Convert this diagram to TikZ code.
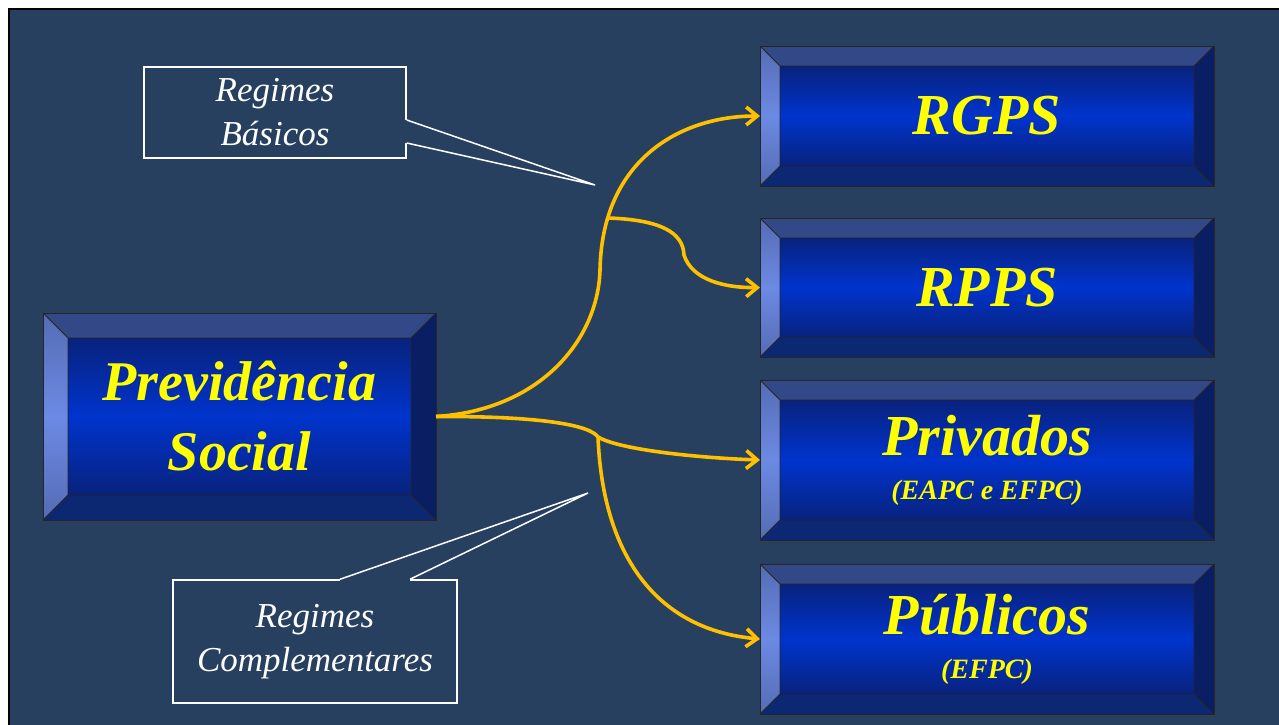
\documentclass[tikz,border=0pt]{standalone}
\usepackage{fontspec}
\setmainfont{Liberation Serif}
\usetikzlibrary{arrows.meta, positioning}

\definecolor{bgblue}{RGB}{39,64,96}
\definecolor{bevtop}{RGB}{50,72,135}
\definecolor{bevbottom}{RGB}{12,40,115}
\definecolor{bevright}{RGB}{10,30,100}
\definecolor{bevleftA}{RGB}{85,108,180}
\definecolor{bevleftB}{RGB}{108,138,228}
\definecolor{innerdark}{RGB}{8,34,125}
\definecolor{innerlight}{RGB}{0,52,205}
\definecolor{textyellow}{RGB}{255,255,0}
\definecolor{linkgold}{RGB}{255,192,0}

\begin{document}
\begin{tikzpicture}[x=0.5pt, y=-0.5pt]
    \tikzset{
        bevel size/.store in = \bevsize, bevel size = 10pt,
        bevelbox/.style = {rectangle, draw=black!85, thin, inner sep=0pt, outer sep=0pt, align=center,
            text=textyellow, font=\fontsize{29}{22}\selectfont\bfseries\itshape,
            path picture={
                \path (path picture bounding box.north west) coordinate (pnw)
                      (path picture bounding box.north east) coordinate (pne)
                      (path picture bounding box.south east) coordinate (pse)
                      (path picture bounding box.south west) coordinate (psw)
                      ([shift={(\bevsize,-\bevsize)}]pnw) coordinate (inw)
                      ([shift={(-\bevsize,-\bevsize)}]pne) coordinate (ine)
                      ([shift={(-\bevsize,\bevsize)}]pse) coordinate (ise)
                      ([shift={(\bevsize,\bevsize)}]psw) coordinate (isw);
                \fill[bevtop] (pnw) -- (pne) -- (ine) -- (inw) -- cycle;
                \fill[bevbottom] (psw) -- (pse) -- (ise) -- (isw) -- cycle;
                \fill[bevright] (pne) -- (pse) -- (ise) -- (ine) -- cycle;
                \shade[top color=bevleftA, bottom color=bevleftA, middle color=bevleftB]
                    (pnw) -- (inw) -- (isw) -- (psw) -- cycle;
                \shade[top color=innerdark, bottom color=innerdark, middle color=innerlight]
                    (inw) rectangle (ise);
                \draw[black!85, thin] (inw) rectangle (ise)
                    (pnw) -- (inw) (pne) -- (ine) (pse) -- (ise) (psw) -- (isw);
            }},
        rightbox/.style = {bevelbox, minimum width=227pt},
        callout/.style = {rectangle, draw=white, line width=0.75pt, fill=bgblue, text=white,
            align=center, font=\fontsize{17.5}{22}\selectfont\itshape},
        pointer/.style = {draw=white, line width=0.75pt},
        line/.style = {draw=linkgold, line width=1.8pt, -{Straight Barb[length=5.5pt, width=9pt]}},
        branch/.style = {draw=linkgold, line width=1.8pt},
    }

    \useasboundingbox (0,0) rectangle (1279,724);
    \fill[bgblue] (9,9) rectangle (1290,740);
    \draw[black, line width=1pt] (9,740) -- (9,9) -- (1290,9);

    \node[bevelbox, bevel size=12.5pt, minimum width=196.5pt, minimum height=103.5pt,
          font=\fontsize{28}{35}\selectfont\bfseries\itshape]
        (prev) at (239.5,416.5) {Previdência\\Social};

    \node[rightbox, minimum height=70pt](rgps) at (987,116) {RGPS};
    \node[rightbox, minimum height=69.5pt](rpps)[below = 16pt of rgps]{RPPS};
    \node[rightbox, minimum height=80pt](priv)[below = 11.5pt of rpps]{Privados\\{\fontsize{14}{16}\selectfont (EAPC e EFPC)}};
    \node[rightbox, minimum height=75pt](publ)[below = 12pt of priv]{Públicos\\{\fontsize{14}{16}\selectfont (EFPC)}};

    \node[callout, minimum width=131pt, minimum height=45.5pt](basicos) at (275,112.5) {Regimes\\Básicos};
    \node[callout, minimum width=142pt, minimum height=61.5pt](compl) at (315,641.5) {Regimes\\Complementares};

    \coordinate (basicostip) at (595,185);
    \coordinate (compltip) at (588,493);
    \fill[bgblue] ([shift={(-1pt,-3.75pt)}]basicos.east) -- ([yshift=-3.75pt]basicos.east) -- (basicostip)
        -- ([yshift=-15.25pt]basicos.east) -- ([shift={(-1pt,-15.25pt)}]basicos.east) -- cycle;
    \path [pointer] ([yshift=-3.75pt]basicos.east) -- (basicostip) -- ([yshift=-15.25pt]basicos.east);
    \fill[bgblue] ([shift={(12.5pt,-1pt)}]compl.north) -- ([xshift=12.5pt]compl.north) -- (compltip)
        -- ([xshift=47.5pt]compl.north) -- ([shift={(47.5pt,-1pt)}]compl.north) -- cycle;
    \path [pointer] ([xshift=12.5pt]compl.north) -- (compltip) -- ([xshift=47.5pt]compl.north);

    \coordinate (split1) at (609,218);
    \coordinate (split2) at (598,437);

    \path [line] (prev.east) .. controls (540,410) and (598,340) .. (600,270)
        .. controls (602,160) and (680,116) .. (rgps.west);
    \path [line] (split1) .. controls (660,220) and (683,232) .. (684,255)
        .. controls (692,280) and (725,288) .. (rpps.west);
    \path [branch] (prev.east) .. controls (540,416) and (590,425) .. (split2);
    \path [line] (split2) .. controls (620,450) and (700,458) .. (priv.west);
    \path [line] (split2) .. controls (603,560) and (660,630) .. (publ.west);

\end{tikzpicture}
\end{document}
